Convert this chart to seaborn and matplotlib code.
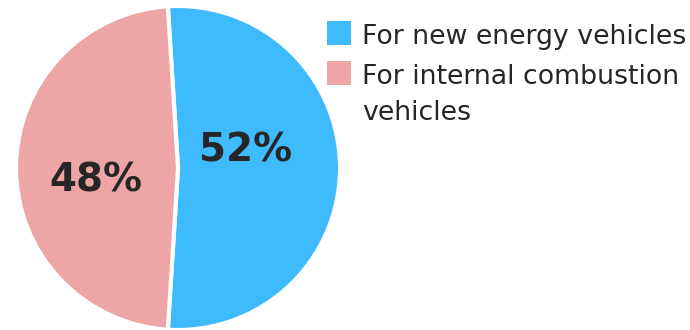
import matplotlib
matplotlib.use("Agg")
import matplotlib.pyplot as plt
from matplotlib.patches import Rectangle
import seaborn as sns

# Share of batteries by vehicle type
categories = ["For new energy vehicles", "For internal combustion\nvehicles"]
shares = [52, 48]
colors = ["#3dbbfd", "#eda5a6"]
label_pos = [(0.42, 0.11), (-0.51, -0.08)]

sns.set_theme(style="white")
plt.rcParams["font.family"] = ["DejaVu Sans"]
text_color = "#262626"

W, H = 690, 330
fig = plt.figure(figsize=(W / 100, H / 100), dpi=100)
ax = fig.add_axes([16 / W, 0 / H, 324 / W, 324 / H])

# Center the blue wedge on the right-hand side
start = 90 + (shares[0] / sum(shares) * 360 - 180) / 2
wedges, _ = ax.pie(
    shares,
    colors=colors,
    startangle=start,
    counterclock=False,
    radius=1,
    wedgeprops=dict(edgecolor="white", linewidth=3),
)
ax.set_xlim(-1.0, 1.0)
ax.set_ylim(-1.0, 1.0)
ax.set_aspect("equal")
ax.axis("off")

for val, (x, y) in zip(shares, label_pos):
    ax.text(x, y, f"{val}%", ha="center", va="center", fontsize=28,
            fontweight="bold", color=text_color)

# Legend: square swatch aligned with the first line of each label
legend_tops = [21, 61]
line_step = 36
for label, color, top in zip(categories, colors, legend_tops):
    fig.add_artist(Rectangle((327 / W, 1 - (top + 24) / H), 24 / W, 24 / H,
                             transform=fig.transFigure, facecolor=color,
                             edgecolor="none"))
    for i, line in enumerate(label.split("\n")):
        baseline = top + 23 + i * line_step
        fig.text(362 / W, 1 - baseline / H, line, ha="left", va="baseline",
                 fontsize=19.3, color=text_color)

fig.savefig("out.png", dpi=100)
